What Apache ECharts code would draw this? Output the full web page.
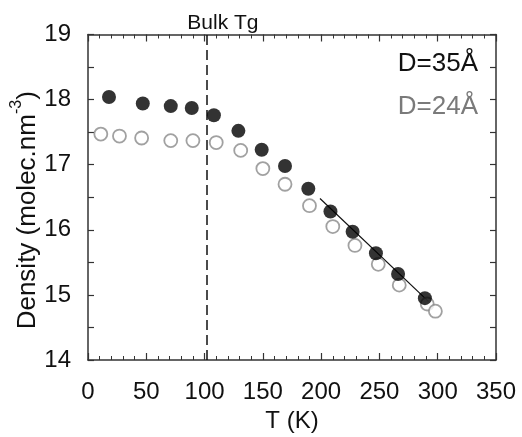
<!DOCTYPE html>
<html>
<head>
<meta charset="utf-8">
<script src="https://cdn.jsdelivr.net/npm/echarts@6/dist/echarts.min.js"></script>
<style>html,body{margin:0;padding:0;background:#fff}#c{width:522px;height:437px}</style>
</head>
<body>
<div id="c"></div>
<script>
// Data
const T35 = [18, 47, 71, 89, 108, 129, 149, 169, 189, 208, 227, 247, 266, 289];
const D35 = [18.04, 17.94, 17.90, 17.87, 17.76, 17.52, 17.23, 16.98, 16.63, 16.28, 15.97, 15.64, 15.32, 14.95];
const T24 = [11, 27, 46, 71, 90, 110, 131, 150, 169, 190, 210, 229, 249, 267, 291, 298];
const D24 = [17.47, 17.44, 17.41, 17.37, 17.37, 17.34, 17.22, 16.94, 16.70, 16.37, 16.05, 15.76, 15.47, 15.15, 14.86, 14.75];
const fitT = [199, 292];
const fitD = [16.48, 14.90];
const bulkTg = 102;
const xTicks = [0, 50, 100, 150, 200, 250, 300, 350];
const yTicks = [14, 15, 16, 17, 18, 19];

const FONT = 'Liberation Sans';
const chart = echarts.init(document.getElementById('c'));
const zip = (a, b) => a.map((v, i) => [v, b[i]]);

const axisLine = () => ({ show: true, onZero: false, lineStyle: { color: '#333', width: 1.5 } });
const xBase = () => ({
  type: 'value', min: xTicks[0], max: xTicks[xTicks.length - 1], interval: 50,
  axisLine: axisLine(), splitLine: { show: false },
  axisTick: { show: true, inside: true, length: 7, lineStyle: { color: '#333', width: 1.2 } },
  minorTick: { show: true, splitNumber: 5, length: 4, lineStyle: { color: '#333', width: 1 } }
});
const yBase = () => ({
  type: 'value', min: yTicks[0], max: yTicks[yTicks.length - 1], interval: 1,
  axisLine: axisLine(), splitLine: { show: false },
  axisTick: { show: true, inside: true, length: 6, lineStyle: { color: '#333', width: 1.2 } },
  minorTick: { show: true, splitNumber: 2, length: 6, lineStyle: { color: '#333', width: 1.2 } }
});

chart.setOption({
  animation: false,
  backgroundColor: '#fff',
  grid: { left: 88, right: 26, top: 34.5, bottom: 77, containLabel: false, outerBoundsMode: 'none' },
  xAxis: [
    Object.assign(xBase(), {
      position: 'bottom',
      name: 'T (K)', nameLocation: 'middle', nameGap: 49, nameMoveOverlap: false,
      nameTextStyle: { fontFamily: FONT, fontSize: 24, color: '#111' },
      axisLabel: { fontFamily: FONT, fontSize: 24, color: '#111', margin: 20 }
    }),
    Object.assign(xBase(), { position: 'top', axisLabel: { show: false } })
  ],
  yAxis: [
    Object.assign(yBase(), {
      position: 'left',
      name: '{n|Density (molec.nm}{s|-3}{n|)}', nameLocation: 'middle', nameGap: 47, nameMoveOverlap: false,
      nameTextStyle: {
        fontFamily: FONT, fontSize: 26, color: '#111', padding: [0, 26, 0, 0],
        rich: {
          n: { fontFamily: FONT, fontSize: 26, color: '#111', lineHeight: 32, verticalAlign: 'bottom' },
          s: { fontFamily: FONT, fontSize: 16, color: '#111', lineHeight: 32, verticalAlign: 'top' }
        }
      },
      axisLabel: { fontFamily: FONT, fontSize: 24, color: '#111', margin: 17 }
    }),
    Object.assign(yBase(), { position: 'right', axisLabel: { show: false } })
  ],
  series: [
    {
      name: 'fit', type: 'line', data: zip(fitT, fitD), symbol: 'none',
      lineStyle: { color: '#111', width: 1.2 }, z: 1,
      markLine: {
        silent: true, symbol: 'none',
        lineStyle: { color: '#111', width: 1.5, type: [10, 5] },
        label: { show: true, position: 'end', formatter: 'Bulk Tg', fontFamily: FONT, fontSize: 21, color: '#111', distance: 1, offset: [16, 0] },
        data: [{ xAxis: bulkTg }]
      }
    },
    {
      name: 'D=24Å', type: 'scatter', data: zip(T24, D24), symbol: 'circle', symbolSize: 13,
      itemStyle: { color: '#fff', borderColor: '#8a8a8a', borderWidth: 1.8 }, z: 2
    },
    {
      name: 'D=35Å', type: 'scatter', data: zip(T35, D35), symbol: 'circle', symbolSize: 14,
      itemStyle: { color: '#000', borderColor: '#000', borderWidth: 0 }, z: 3
    }
  ],
  graphic: [
    { type: 'text', right: 44, top: 51, style: { text: 'D=35Å', fontFamily: FONT, fontSize: 26, fill: '#111' } },
    { type: 'text', right: 44, top: 94, style: { text: 'D=24Å', fontFamily: FONT, fontSize: 26, fill: '#7a7a7a' } }
  ]
});
</script>
</body>
</html>
